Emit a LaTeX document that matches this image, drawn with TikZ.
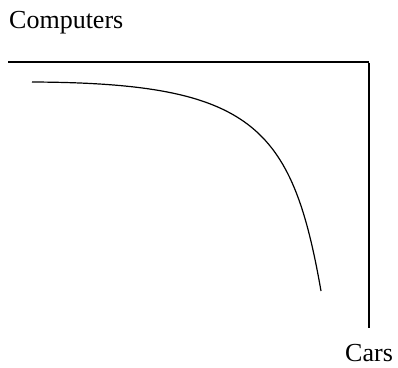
\documentclass[tikz,border=0pt]{standalone}
\usepackage{fontspec}
\setmainfont{Liberation Serif}
\usepackage{tikz}

\tikzset{
  frameline/.style={line width=1.3pt},
  tradeoff/.style={line width=1.2pt},
  axislabel/.style={font=\fontsize{26}{30}\selectfont, inner sep=0pt, anchor=base west}
}

\begin{document}
\begin{tikzpicture}[x=1pt, y=-1pt]
  \useasboundingbox (0,0) rectangle (398,367);

  % Axis labels
  \node[axislabel] (computers) at (9,28) {Computers};
  \node[axislabel] (cars) at (345,361) {Cars};

  % Frame: top edge and right edge
  \coordinate (topleft) at (8,62);
  \coordinate (corner) at (369,62);
  \coordinate (bottom) at (369,328);
  \draw[frameline] (topleft) -- (corner);
  \draw[frameline] ([yshift=-0.6pt]corner) -- (bottom);

  % Bowed-out frontier
  \coordinate (start) at (32,82);
  \coordinate (finish) at (321,291);
  \draw[tradeoff] (start) .. controls (252,83) and (292,125) .. (finish);

\end{tikzpicture}
\end{document}
